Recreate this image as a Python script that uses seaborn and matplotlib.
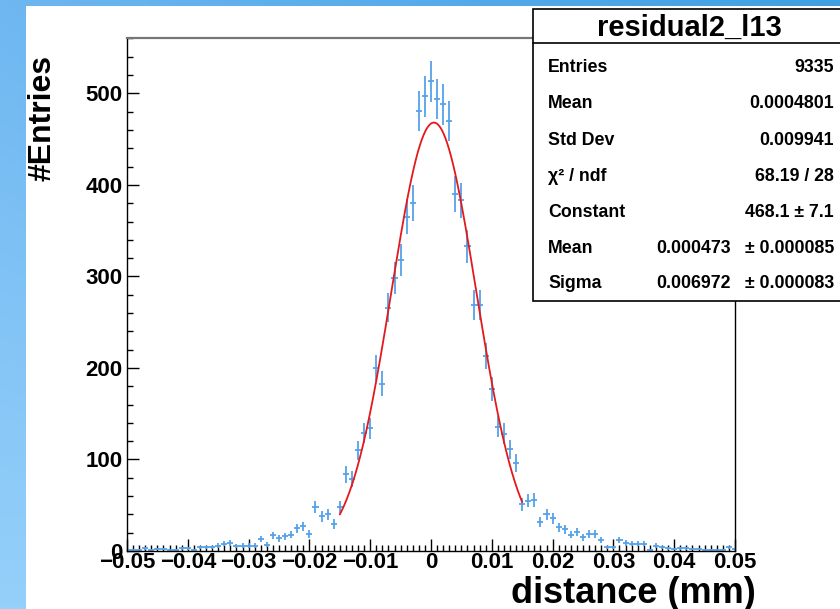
import numpy as np
import pandas as pd
import matplotlib
matplotlib.use("Agg")
import matplotlib.pyplot as plt
import seaborn as sns
from matplotlib.patches import Rectangle
from matplotlib.ticker import MultipleLocator

# ---------------- data ----------------
bin_index = list(range(-50, 51))          # bin centres in units of 0.001 mm
bin_width = 0.001
counts = [
    1, 1, 1, 3, 1, 2, 2, 1, 1, 3,          # -50 .. -41
    3, 1, 4, 4, 4, 6, 8, 9, 5, 6,          # -40 .. -31
    6, 6, 13, 7, 17, 14, 16, 18, 25, 27,   # -30 .. -21
    19, 48, 38, 40, 30, 48, 84, 79, 110, 129,  # -20 .. -11
    134, 200, 183, 266, 298, 318, 365, 380, 481, 497,  # -10 .. -1
    513,                                   # 0
    494, 488, 470, 390, 383, 333, 269, 269, 213, 177,  # 1 .. 10
    136, 128, 111, 96, 51, 55, 56, 32, 40, 36,   # 11 .. 20
    26, 24, 18, 21, 15, 19, 19, 12, 4, 4,        # 21 .. 30
    12, 9, 8, 8, 8, 1, 6, 4, 3, 2,               # 31 .. 40
    3, 3, 2, 2, 1, 1, 1, 1, 4, 2,                # 41 .. 50
]
x_ticks = [-0.05, -0.04, -0.03, -0.02, -0.01, 0.0, 0.01, 0.02, 0.03, 0.04, 0.05]
x_tick_labels = ["\u22120.05", "\u22120.04", "\u22120.03", "\u22120.02", "\u22120.01",
                 "0", "0.01", "0.02", "0.03", "0.04", "0.05"]
y_ticks = [0, 100, 200, 300, 400, 500]
y_tick_labels = ["0", "100", "200", "300", "400", "500"]

fit_constant = 468.1
fit_mean = 0.000473
fit_sigma = 0.006972
fit_lo, fit_hi = -0.015, 0.015

stats_title = "residual2_l13"
stats_rows = [
    ("Entries", "9335", None),
    ("Mean", "0.0004801", None),
    ("Std Dev", "0.009941", None),
    ("\u03c7\u00b2 / ndf", "68.19 / 28", None),
    ("Constant", "468.1 \u00b1 7.1", None),
    ("Mean", "0.000473", "\u00b1 0.000085"),
    ("Sigma", "0.006972", "\u00b1 0.000083"),
]

df = pd.DataFrame({"x": np.array(bin_index) * bin_width, "n": counts})
df["err"] = np.sqrt(df["n"])

# ---------------- figure ----------------
sns.set_theme(style="white")
plt.rcParams["font.family"] = ["Liberation Sans", "DejaVu Sans"]
plt.rcParams["font.weight"] = "bold"

W, H = 840, 609
fig = plt.figure(figsize=(W / 100, H / 100), dpi=100)

# background gradient frame
bg = fig.add_axes([0, 0, 1, 1], zorder=0)
tl = np.array([0x6e, 0xb7, 0xf1]) / 255
tr = np.array([0x40, 0xa0, 0xe2]) / 255
bl = np.array([0x95, 0xd0, 0xfa]) / 255
br = np.array([0x95, 0xd0, 0xfa]) / 255
u = np.linspace(0, 1, 200)[None, :, None]
v = np.linspace(0, 1, 150)[:, None, None]
img = (1 - v) * ((1 - u) * tl + u * tr) + v * ((1 - u) * bl + u * br)
bg.imshow(img, extent=[0, W, H, 0], aspect="auto")
bg.add_patch(Rectangle((26, 6), W - 26, H - 6, facecolor="white", edgecolor="none"))
bg.set_xlim(0, W)
bg.set_ylim(H, 0)
bg.axis("off")

# main axes
ax = fig.add_axes([127 / W, 1 - 551 / H, (735 - 127) / W, (551 - 38) / H], zorder=1)
ax.set_facecolor("white")
ax.errorbar(df["x"], df["n"], yerr=df["err"], xerr=bin_width / 2, fmt="none",
            ecolor="#55a2ea", elinewidth=1.3, capsize=0, zorder=2)

xf = np.linspace(fit_lo, fit_hi, 400)
yf = fit_constant * np.exp(-0.5 * ((xf - fit_mean) / fit_sigma) ** 2)
sns.lineplot(x=xf, y=yf, ax=ax, color="#e3191c", linewidth=1.3, zorder=3)

ax.set_xlim(-0.05, 0.05)
ax.set_ylim(0, 560.5)
ax.set_xticks(x_ticks)
ax.set_xticklabels(x_tick_labels)
ax.set_yticks(y_ticks)
ax.set_yticklabels(y_tick_labels)
ax.xaxis.set_minor_locator(MultipleLocator(0.001))
ax.yaxis.set_minor_locator(MultipleLocator(20))
ax.tick_params(which="both", direction="in", top=False, right=False,
               bottom=True, left=True, color="black", width=1)
ax.tick_params(which="major", length=8.6)
ax.tick_params(which="minor", length=4.3)
ax.tick_params(axis="x", which="major", labelsize=16, pad=1)
ax.tick_params(axis="y", which="major", labelsize=16, pad=3)
for lab in ax.get_xticklabels() + ax.get_yticklabels():
    lab.set_fontweight("bold")
    lab.set_color("black")
for s in ["left", "bottom", "right"]:
    ax.spines[s].set_color("black")
    ax.spines[s].set_linewidth(1)
ax.spines["top"].set_color("#777777")
ax.spines["top"].set_linewidth(1.6)
ax.set_xlabel("")
ax.set_ylabel("")
ax.grid(False)

# overlay for titles and stats box
ov = fig.add_axes([0, 0, 1, 1], zorder=5)
ov.set_xlim(0, W)
ov.set_ylim(H, 0)
ov.axis("off")
ov.patch.set_alpha(0)

ov.text(756, 603, "distance (mm)", ha="right", va="baseline",
        fontsize=26, fontweight="bold", color="black")
ov.text(42.5, 55, "#Entries", ha="center", va="top", rotation=90,
        fontsize=23, fontweight="bold", color="black")

ov.add_patch(Rectangle((533, 9), 320, 292, facecolor="white", edgecolor="black", linewidth=1.2))
ov.plot([533, 853], [43, 43], color="black", linewidth=1.2)
ov.text(689, 36, stats_title, ha="center", va="baseline", fontsize=21,
        fontweight="bold", color="black")
baselines = [72, 108, 145, 181, 217, 253, 288]
for (lab, val, err), yb in zip(stats_rows, baselines):
    ov.text(548, yb, lab, ha="left", va="baseline", fontsize=12.8,
            fontweight="bold", color="black")
    if err is None:
        ov.text(834, yb, val, ha="right", va="baseline", fontsize=12.8,
                fontweight="bold", color="black")
    else:
        ov.text(731, yb, val, ha="right", va="baseline", fontsize=12.8,
                fontweight="bold", color="black")
        ov.text(834, yb, err, ha="right", va="baseline", fontsize=12.8,
                fontweight="bold", color="black")

fig.savefig("out.png", dpi=100)
